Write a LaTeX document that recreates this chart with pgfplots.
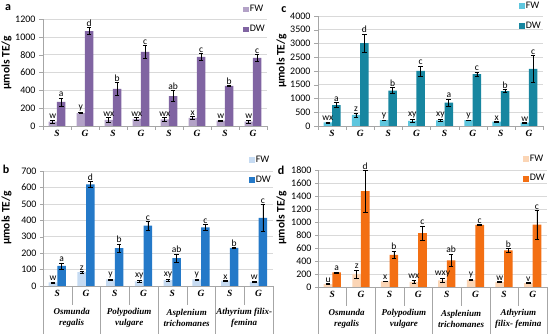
\documentclass[border=0pt]{standalone}
\usepackage{fontspec}
\setmainfont{Carlito}
\newfontfamily\tnr{Liberation Serif}
\usepackage{pgfplots}
\pgfplotsset{compat=1.18}
\usepackage{pgfplotstable}

\definecolor{aFW}{HTML}{B3A2C7}
\definecolor{aDW}{HTML}{8064A2}
\definecolor{bFW}{HTML}{C6DBF2}
\definecolor{bDW}{HTML}{2479C8}
\definecolor{cFW}{HTML}{5EC6DE}
\definecolor{cDW}{HTML}{1786A0}
\definecolor{dFW}{HTML}{FBD5B5}
\definecolor{dDW}{HTML}{F36F13}

\pgfplotstableread{
x fw fwe fwl dw dwe dwl
0 50 15 w 270 45 a
1 145 5 y 1065 40 d
2 70 25 wx 415 75 b
3 80 15 wx 830 75 c
4 75 20 wx 335 60 ab
5 90 15 x 775 40 c
6 60 5 w 450 5 b
7 50 15 w 765 35 c
}\tabA

\pgfplotstableread{
x fw fwe fwl dw dwe dwl
0 22 3 w 122 18 a
1 85 5 z 618 18 d
2 40 3 y 230 25 b
3 28 5 xy 367 25 c
4 35 8 xy 170 25 ab
5 40 3 y 357 18 c
6 32 3 x 232 3 b
7 25 5 w 415 82 c
}\tabB

\pgfplotstableread{
x fw fwe fwl dw dwe dwl
0 130 20 wx 760 90 a
1 400 70 z 3010 330 d
2 210 15 y 1290 110 b
3 190 40 xy 2000 180 c
4 200 40 xy 850 130 a
5 210 10 y 1890 70 c
6 160 10 x 1270 60 b
7 120 15 w 2080 490 c
}\tabC

\pgfplotstableread{
x fw fwe fwl dw dwe dwl
0 45 5 u 225 8 a
1 200 60 z 1475 320 d
2 85 5 x 495 55 b
3 80 25 wx 830 110 c
4 100 30 wxy 410 95 ab
5 110 10 y 955 10 c
6 75 5 w 565 25 b
7 60 5 v 960 220 c
}\tabD

\tikzset{spec/.style={font=\tnr\bfseries\itshape\fontsize{9}{10.5}\selectfont, align=center}}

\pgfplotsset{
 panel/.style={
  scale only axis, xmin=-0.5, xmax=7.5, ymin=0,
  axis x line=bottom, axis y line=left,
  axis line style={draw=gray!70,-},
  ymajorgrids, grid style={draw=gray!30, line width=0.5pt},
  tick align=outside, major tick length=3pt,
  tick style={draw=gray!70},
  xticklabels={},
  extra x ticks={0,...,7},
  extra x tick labels={S,G,S,G,S,G,S,G},
  extra x tick style={major tick length=0pt, grid=none},
  xticklabel style={font=\tnr\bfseries\itshape\fontsize{9.5}{9.5}\selectfont, yshift=-1pt},
  yticklabel style={font=\fontsize{10}{10}\selectfont},
  /pgf/number format/assume math mode=true,
  /pgf/number format/1000 sep={},
  ylabel={\bfseries μmols TE/g},
  every axis y label/.style={at={([xshift=-36.5pt]rel axis cs:0,0.59)}, rotate=90, anchor=center, font=\fontsize{11.5}{11.5}\selectfont},
  clip=false,
  legend style={draw=none, fill=none, at={(rel axis cs:1.0,1.15)}, anchor=north east,
    font=\fontsize{10}{10}\selectfont, row sep=8pt, inner sep=0pt,
    /tikz/every even column/.style={column sep=2pt}},
  legend cell align=left,
 },
 lab/.style={draw=none, mark=none, forget plot, nodes near coords, point meta=explicit symbolic,
  nodes near coords style={anchor=south, inner sep=1pt, font=\fontsize{9.5}{9.5}\selectfont, black}},
 errs/.style={error bars/y dir=both, error bars/y explicit,
  error bars/error bar style={black, line width=0.6pt},
  error bars/error mark options={black, rotate=90, mark size=2.3pt, line width=0.6pt}},
 fwbar/.style={ybar, bar width=0.3, bar shift=0, draw=none, forget plot, errs},
}

\begin{document}
\begin{tikzpicture}[x=1pt,y=1pt]
\path[use as bounding box] (0,0) rectangle (550,334);

% ---------- panel a ----------
\begin{axis}[panel, at={(43pt,208pt)}, anchor=south west, width=224pt, height=107pt,
  ymax=1200, ytick distance=200, xtick={-0.5,0.5,...,7.5}, major tick length=4pt]
\addlegendimage{only marks, mark=square*, mark size=2.3pt, color=aFW}\addlegendentry{FW}
\addlegendimage{only marks, mark=square*, mark size=2.3pt, color=aDW}\addlegendentry{DW}
\addplot[fwbar, fill=aFW] table[x expr=\thisrow{x}-0.15, y=fw, y error=fwe] {\tabA};
\addplot[fwbar, fill=aDW] table[x expr=\thisrow{x}+0.15, y=dw, y error=dwe] {\tabA};
\addplot[lab] table[x expr=\thisrow{x}-0.15, y expr=\thisrow{fw}+\thisrow{fwe}, meta=fwl] {\tabA};
\addplot[lab] table[x expr=\thisrow{x}+0.15, y expr=\thisrow{dw}+\thisrow{dwe}, meta=dwl] {\tabA};
\end{axis}

% ---------- panel c ----------
\begin{axis}[panel, at={(318pt,208pt)}, anchor=south west, width=225pt, height=110pt,
  ymax=4000, ytick distance=500, xtick={-0.5,0.5,...,7.5}, major tick length=4pt]
\addlegendimage{only marks, mark=square*, mark size=2.3pt, color=cFW}\addlegendentry{FW}
\addlegendimage{only marks, mark=square*, mark size=2.3pt, color=cDW}\addlegendentry{DW}
\addplot[fwbar, fill=cFW] table[x expr=\thisrow{x}-0.15, y=fw, y error=fwe] {\tabC};
\addplot[fwbar, fill=cDW] table[x expr=\thisrow{x}+0.15, y=dw, y error=dwe] {\tabC};
\addplot[lab] table[x expr=\thisrow{x}-0.15, y expr=\thisrow{fw}+\thisrow{fwe}, meta=fwl] {\tabC};
\addplot[lab] table[x expr=\thisrow{x}+0.15, y expr=\thisrow{dw}+\thisrow{dwe}, meta=dwl] {\tabC};
\end{axis}

% ---------- panel b ----------
\begin{axis}[panel, at={(43pt,48pt)}, anchor=south west, width=230pt, height=115pt,
  ymax=700, ytick distance=100, xtick=\empty]
\addlegendimage{only marks, mark=square*, mark size=2.3pt, color=bFW}\addlegendentry{FW}
\addlegendimage{only marks, mark=square*, mark size=2.3pt, color=bDW}\addlegendentry{DW}
\addplot[fwbar, fill=bFW] table[x expr=\thisrow{x}-0.15, y=fw, y error=fwe] {\tabB};
\addplot[fwbar, fill=bDW] table[x expr=\thisrow{x}+0.15, y=dw, y error=dwe] {\tabB};
\addplot[lab] table[x expr=\thisrow{x}-0.15, y expr=\thisrow{fw}+\thisrow{fwe}, meta=fwl] {\tabB};
\addplot[lab] table[x expr=\thisrow{x}+0.15, y expr=\thisrow{dw}+\thisrow{dwe}, meta=dwl] {\tabB};
\draw[gray!70] (axis cs:-0.5,0) -- ++(0pt,-48pt);
\draw[gray!70] (axis cs:1.5,0) -- ++(0pt,-48pt);
\draw[gray!70] (axis cs:3.5,0) -- ++(0pt,-48pt);
\draw[gray!70] (axis cs:5.5,0) -- ++(0pt,-48pt);
\draw[gray!70] (axis cs:7.5,0) -- ++(0pt,-48pt);
\draw[gray!70] (axis cs:0.5,0) -- ++(0pt,-19pt);
\draw[gray!70] (axis cs:2.5,0) -- ++(0pt,-19pt);
\draw[gray!70] (axis cs:4.5,0) -- ++(0pt,-19pt);
\draw[gray!70] (axis cs:6.5,0) -- ++(0pt,-19pt);
\node[spec] at ([yshift=-32pt]axis cs:0.5,0) {Osmunda\\regalis};
\node[spec] at ([yshift=-32pt]axis cs:2.5,0) {Polypodium\\vulgare};
\node[spec] at ([yshift=-32pt]axis cs:4.5,0) {Asplenium\\trichomanes};
\node[spec] at ([yshift=-32pt]axis cs:6.5,0) {Athyrium filix-\\femina};
\end{axis}

% ---------- panel d ----------
\begin{axis}[panel, at={(318pt,47pt)}, anchor=south west, width=229pt, height=117pt,
  ymax=1800, ytick distance=200, xtick=\empty]
\addlegendimage{only marks, mark=square*, mark size=2.3pt, color=dFW}\addlegendentry{FW}
\addlegendimage{only marks, mark=square*, mark size=2.3pt, color=dDW}\addlegendentry{DW}
\addplot[fwbar, fill=dFW] table[x expr=\thisrow{x}-0.15, y=fw, y error=fwe] {\tabD};
\addplot[fwbar, fill=dDW] table[x expr=\thisrow{x}+0.15, y=dw, y error=dwe] {\tabD};
\addplot[lab] table[x expr=\thisrow{x}-0.15, y expr=\thisrow{fw}+\thisrow{fwe}, meta=fwl] {\tabD};
\addplot[lab] table[x expr=\thisrow{x}+0.15, y expr=\thisrow{dw}+\thisrow{dwe}, meta=dwl] {\tabD};
\draw[gray!70] (axis cs:-0.5,0) -- ++(0pt,-48pt);
\draw[gray!70] (axis cs:1.5,0) -- ++(0pt,-48pt);
\draw[gray!70] (axis cs:3.5,0) -- ++(0pt,-48pt);
\draw[gray!70] (axis cs:5.5,0) -- ++(0pt,-48pt);
\draw[gray!70] (axis cs:7.5,0) -- ++(0pt,-48pt);
\draw[gray!70] (axis cs:0.5,0) -- ++(0pt,-19pt);
\draw[gray!70] (axis cs:2.5,0) -- ++(0pt,-19pt);
\draw[gray!70] (axis cs:4.5,0) -- ++(0pt,-19pt);
\draw[gray!70] (axis cs:6.5,0) -- ++(0pt,-19pt);
\node[spec] at ([yshift=-32pt]axis cs:0.5,0) {Osmunda\\regalis};
\node[spec] at ([yshift=-32pt]axis cs:2.5,0) {Polypodium\\vulgare};
\node[spec] at ([yshift=-32pt]axis cs:4.5,0) {Asplenium\\trichomanes};
\node[spec] at ([yshift=-32pt]axis cs:6.5,0) {Athyrium\\filix- femina};
\end{axis}

% panel letters
\node[font=\bfseries\fontsize{12}{12}\selectfont] at (8,326) {a};
\node[font=\bfseries\fontsize{12}{12}\selectfont] at (284,324) {c};
\node[font=\bfseries\fontsize{12}{12}\selectfont] at (6,165) {b};
\node[font=\bfseries\fontsize{12}{12}\selectfont] at (281,164) {d};
\end{tikzpicture}
\end{document}
